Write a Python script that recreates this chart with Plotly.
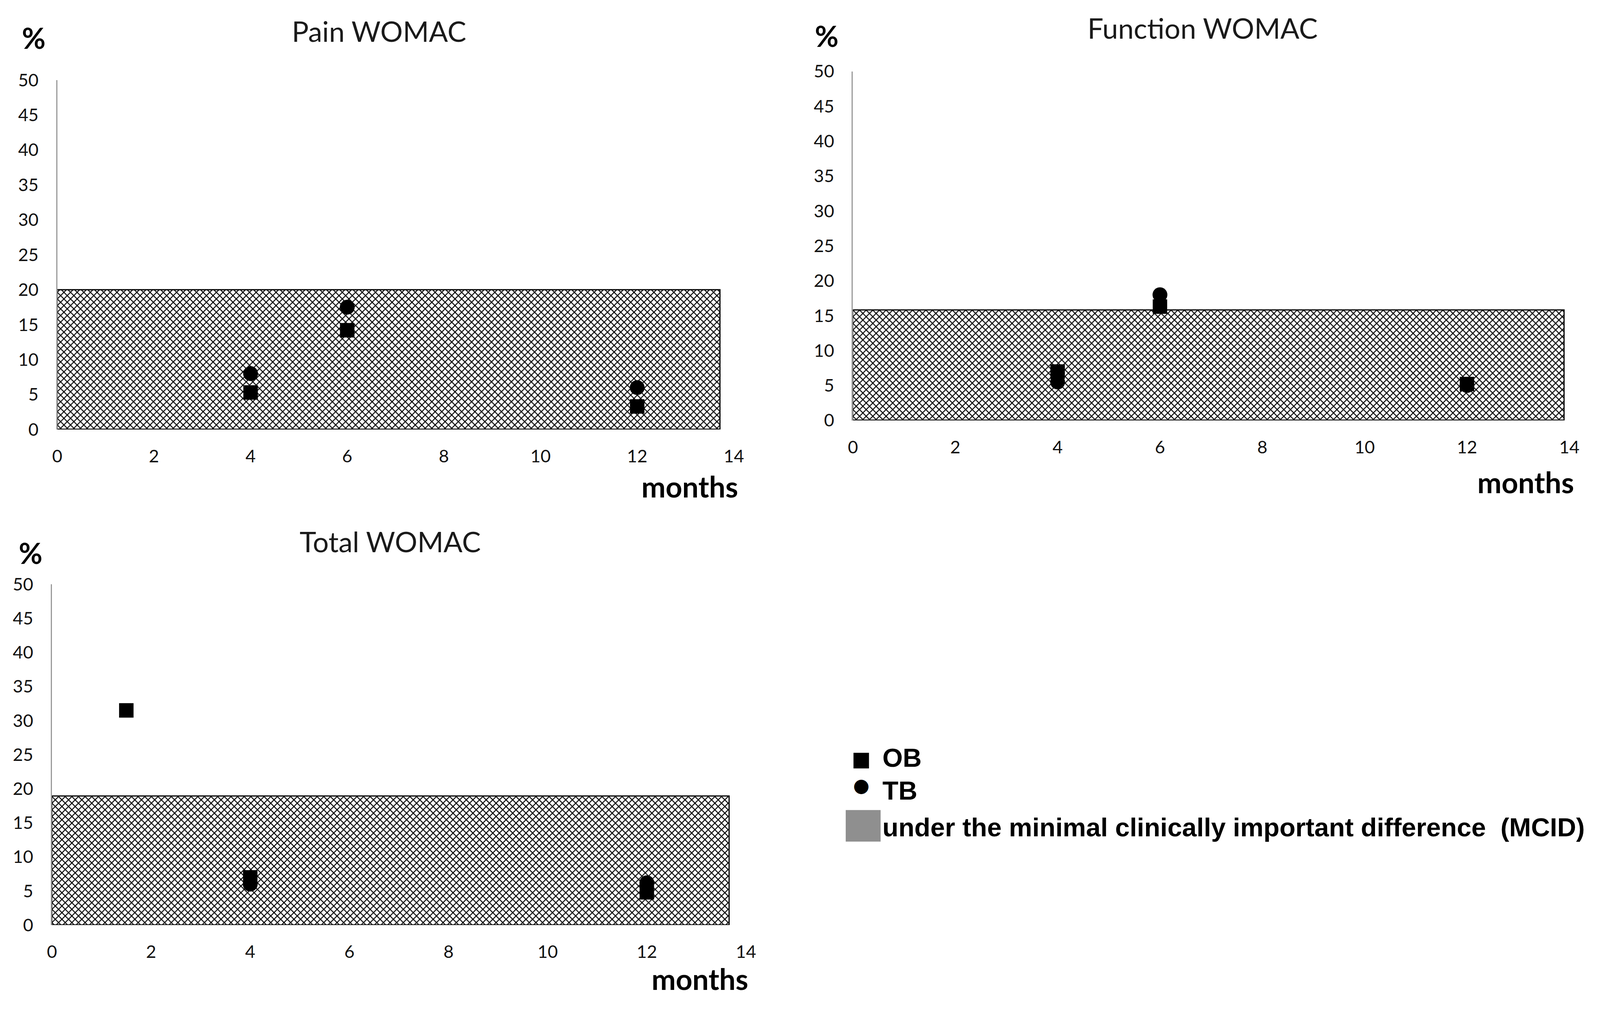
import plotly.graph_objects as go

# ---------------- data ----------------
months_ticks = [0, 2, 4, 6, 8, 10, 12, 14]
pct_ticks = [0, 5, 10, 15, 20, 25, 30, 35, 40, 45, 50]

pain_ob_x = [4, 6, 12]
pain_ob_y = [5.3, 14.2, 3.3]
pain_tb_x = [4, 6, 12]
pain_tb_y = [8.0, 17.5, 6.0]
pain_mcid = 20.0
pain_mcid_end = 13.72

func_ob_x = [4, 6, 12]
func_ob_y = [7.0, 16.3, 5.2]
func_tb_x = [4, 6, 12]
func_tb_y = [5.5, 18.0, 5.0]
func_mcid = 15.8
func_mcid_end = 13.9

total_ob_x = [1.5, 4, 12]
total_ob_y = [31.5, 7.0, 4.8]
total_tb_x = [4, 12]
total_tb_y = [6.0, 6.2]
total_mcid = 18.9
total_mcid_end = 13.66

titles = ["Pain WOMAC", "Function WOMAC", "Total WOMAC"]
legend_labels = ["OB", "TB", "under the minimal clinically important difference&nbsp; (MCID)"]

# ---------------- page geometry ----------------
# the page is photographed slightly enlarged, with the default 8 px body margin
S, OFF = 1.03, 8
WF, HF = 4075, 2540


def fx(p):
    return (p / S - OFF) / WF


def fy(p):
    return 1 - (p / S - OFF) / HF


TICK_FONT = dict(family="Lato, Roboto, sans-serif", size=45, color="#111111")
TITLE_FONT = dict(family="Lato, Roboto, sans-serif", size=72, color="#1a1a1a")
BOLD_FONT = dict(family="Lato, Roboto, sans-serif", size=74, color="#000000")
LEG_FONT = dict(family="Liberation Sans, Arial, sans-serif", size=67, color="#000000")

panels = [
    dict(ob=(pain_ob_x, pain_ob_y), tb=(pain_tb_x, pain_tb_y), mcid=pain_mcid, end=pain_mcid_end,
         xd=[fx(151), fx(1935)], yd=[fy(1132), fy(211)],
         title=(1000, 81), pct=(89, 99), months=(1819, 1282)),
    dict(ob=(func_ob_x, func_ob_y), tb=(func_tb_x, func_tb_y), mcid=func_mcid, end=func_mcid_end,
         xd=[fx(2249), fx(4138)], yd=[fy(1108), fy(188)],
         title=(3171, 73), pct=(2180, 94), months=(4023, 1271)),
    dict(ob=(total_ob_x, total_ob_y), tb=(total_tb_x, total_tb_y), mcid=total_mcid, end=total_mcid_end,
         xd=[fx(137), fx(1967)], yd=[fy(2438), fy(1540)],
         title=(1029, 1427), pct=(81, 1457), months=(1846, 2580)),
]

fig = go.Figure()
annotations = []
layout_axes = {}

for i, p in enumerate(panels):
    n = "" if i == 0 else str(i + 1)
    xa, ya = "x" + n, "y" + n
    # region under the MCID (hatched)
    fig.add_trace(go.Bar(
        x=[p["end"] / 2], y=[p["mcid"]], width=[p["end"]], base=0,
        xaxis=xa, yaxis=ya, showlegend=False, hoverinfo="skip",
        marker=dict(color="white",
                    line=dict(color="black", width=3),
                    pattern=dict(shape="x", size=12, solidity=0.36,
                                 fgcolor="black", bgcolor="white", fillmode="replace")),
    ))
    # TB
    fig.add_trace(go.Scatter(
        x=p["tb"][0], y=p["tb"][1], mode="markers", xaxis=xa, yaxis=ya,
        name="TB", showlegend=False,
        marker=dict(symbol="circle", size=38, color="black", line=dict(width=0)),
    ))
    # OB
    fig.add_trace(go.Scatter(
        x=p["ob"][0], y=p["ob"][1], mode="markers", xaxis=xa, yaxis=ya,
        name="OB", showlegend=False,
        marker=dict(symbol="square", size=37, color="black", line=dict(width=0)),
    ))
    layout_axes["xaxis" + n] = dict(
        domain=p["xd"], range=[0, 14], anchor=ya, tickvals=months_ticks,
        showgrid=False, zeroline=False, showline=False, ticks="", automargin=False,
        tickfont=TICK_FONT, ticklabelstandoff=38, fixedrange=True,
    )
    layout_axes["yaxis" + n] = dict(
        domain=p["yd"], range=[0, 50], anchor=xa, tickvals=pct_ticks,
        showgrid=False, zeroline=False, showline=True, linecolor="#9a9a9a", linewidth=3,
        ticks="", tickfont=TICK_FONT, ticklabelstandoff=36, fixedrange=True, automargin=False,
    )
    annotations.append(dict(text=titles[i], x=fx(p["title"][0]), y=fy(p["title"][1]), xref="paper", yref="paper",
                            showarrow=False, font=TITLE_FONT, xanchor="center", yanchor="middle"))
    annotations.append(dict(text="<b>%</b>", x=fx(p["pct"][0]), y=fy(p["pct"][1]), xref="paper", yref="paper",
                            showarrow=False, font=BOLD_FONT, xanchor="center", yanchor="middle"))
    annotations.append(dict(text="<b>months</b>", x=fx(p["months"][0]), y=fy(p["months"][1]), xref="paper",
                            yref="paper", showarrow=False, font=BOLD_FONT, xanchor="center", yanchor="middle"))

# ---------------- legend ----------------
annotations.append(dict(text="■", x=fx(2271), y=fy(2000), xref="paper", yref="paper", showarrow=False,
                        font=dict(family="DejaVu Sans", size=52, color="black"), xanchor="center", yanchor="middle"))
annotations.append(dict(text="●", x=fx(2271), y=fy(2069), xref="paper", yref="paper", showarrow=False,
                        font=dict(family="DejaVu Sans", size=48, color="black"), xanchor="center", yanchor="middle"))
annotations.append(dict(text="<b>%s</b>" % legend_labels[0], x=fx(2325), y=fy(1997), xref="paper", yref="paper",
                        showarrow=False, font=LEG_FONT, xanchor="left", yanchor="middle"))
annotations.append(dict(text="<b>%s</b>" % legend_labels[1], x=fx(2325), y=fy(2083), xref="paper", yref="paper",
                        showarrow=False, font=LEG_FONT, xanchor="left", yanchor="middle"))
annotations.append(dict(text="<b>%s</b>" % legend_labels[2], x=fx(2325), y=fy(2180), xref="paper", yref="paper",
                        showarrow=False, font=LEG_FONT, xanchor="left", yanchor="middle"))

shapes = [dict(type="rect", xref="paper", yref="paper", x0=fx(2230), x1=fx(2322), y0=fy(2218), y1=fy(2135),
               fillcolor="#8f8f8f", line=dict(width=0), layer="above")]

fig.update_layout(
    width=WF, height=HF, autosize=False,
    margin=dict(l=0, r=0, t=0, b=0, pad=0),
    paper_bgcolor="white", plot_bgcolor="rgba(0,0,0,0)",
    showlegend=False, bargap=0,
    annotations=annotations, shapes=shapes,
    **layout_axes,
)

fig.write_html("out.html")
